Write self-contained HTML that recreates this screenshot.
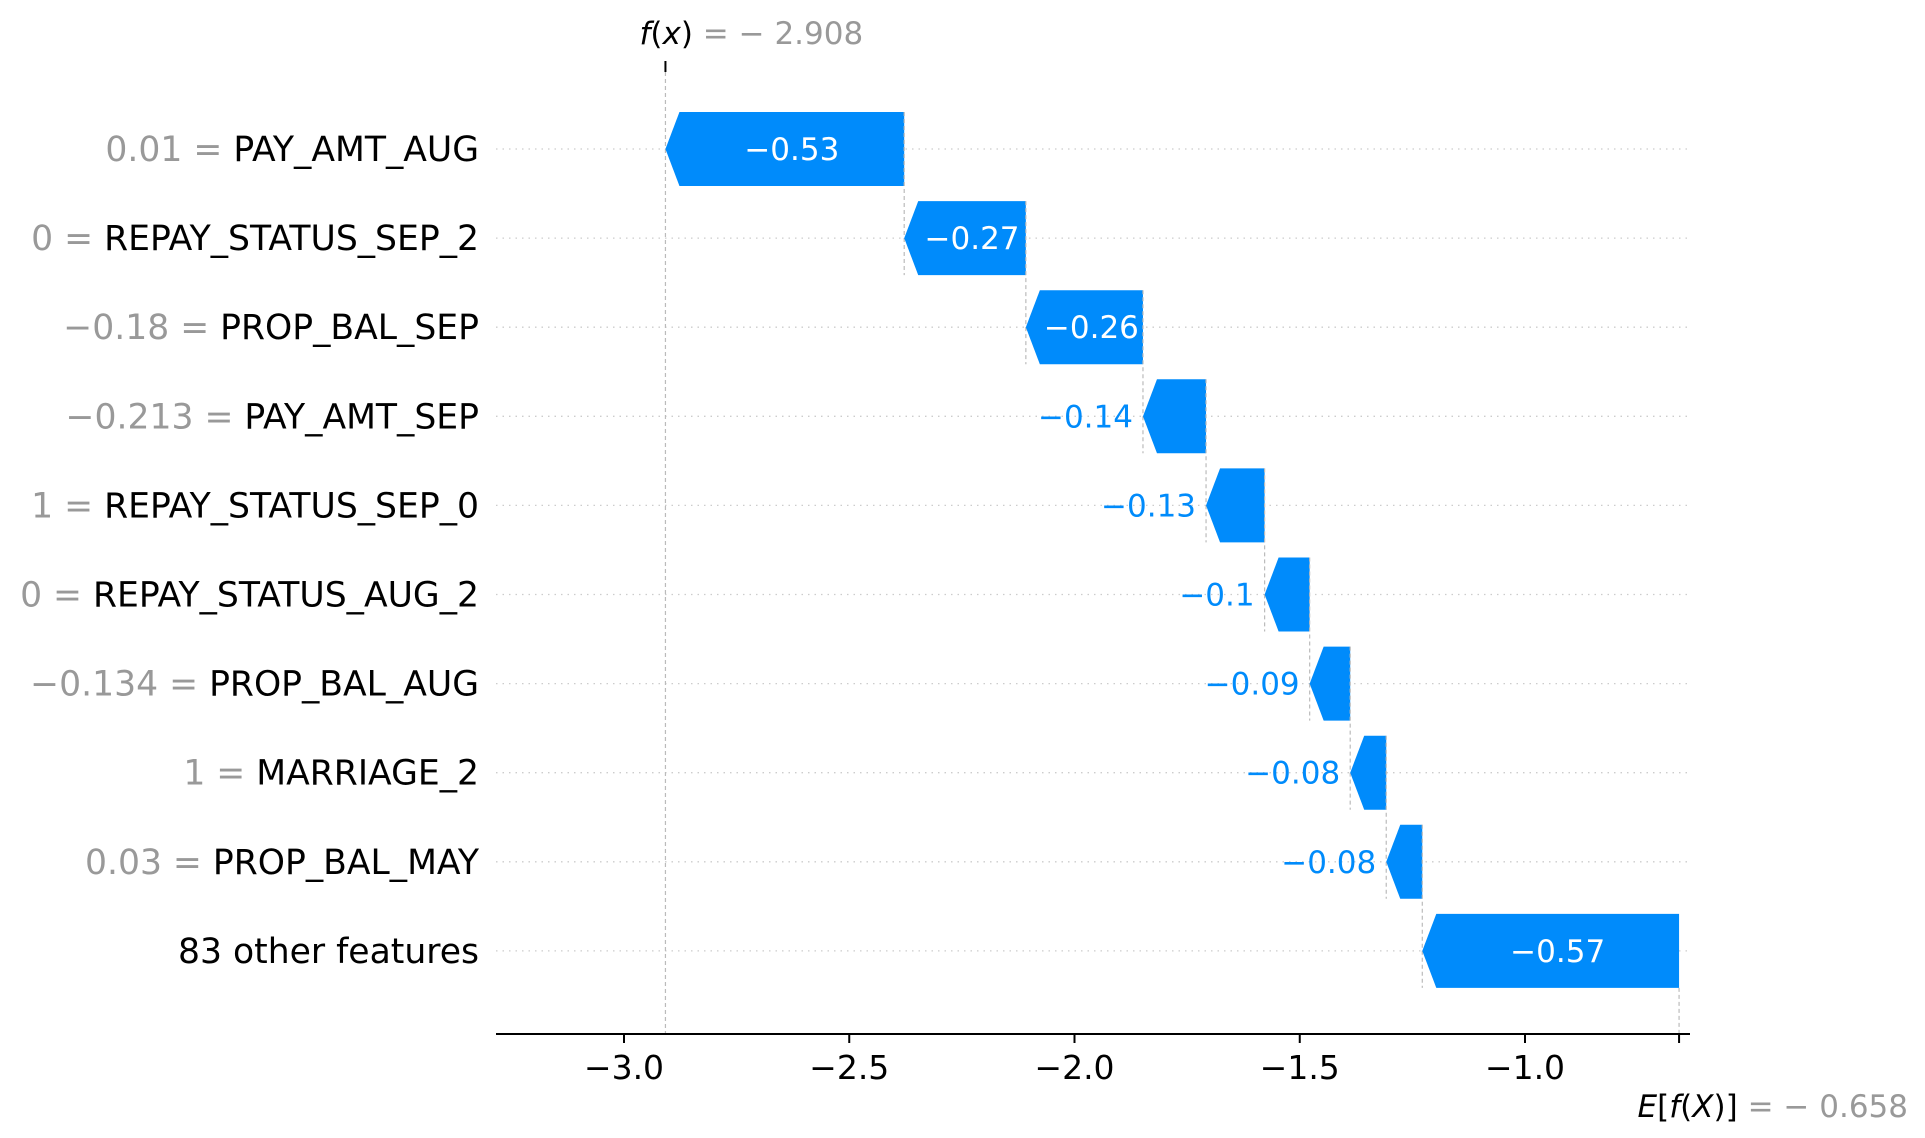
<!DOCTYPE html>
<html><head><meta charset="utf-8"><style>
html,body{margin:0;padding:0;background:#fff;}
svg{display:block;font-family:"DejaVu Sans","Liberation Sans",sans-serif;}
</style></head><body>
<svg id="chart" width="1925" height="1138" viewBox="0 0 1925 1138" xmlns="http://www.w3.org/2000/svg"></svg>
<script>
const featureValues = ["0.01","0","\u22120.18","\u22120.213","1","0","\u22120.134","1","0.03",""];
const featureNames = ["PAY_AMT_AUG","REPAY_STATUS_SEP_2","PROP_BAL_SEP","PAY_AMT_SEP","REPAY_STATUS_SEP_0","REPAY_STATUS_AUG_2","PROP_BAL_AUG","MARRIAGE_2","PROP_BAL_MAY","83 other features"];
const shapValues = [-0.53,-0.27,-0.26,-0.14,-0.13,-0.10,-0.09,-0.08,-0.08,-0.57];
const baseValue = -0.658;
const tickValues = [-3.0,-2.5,-2.0,-1.5,-1.0];
const tickLabels = ["\u22123.0","\u22122.5","\u22122.0","\u22121.5","\u22121.0"];

const NS="http://www.w3.org/2000/svg";
const svg=document.getElementById('chart');
const X0=624, PPU=450.5, AX=-3.0;
const xs=v=>X0+(v-AX)*PPU;
const ys=i=>149+i*89.1;
const barH=74, head=14, axisY=1034, plotL=496, plotR=1690;
function mk(tag,attrs,parent){const e=document.createElementNS(NS,tag);for(const k in attrs)e.setAttribute(k,attrs[k]);(parent||svg).appendChild(e);return e;}

const fx = baseValue + shapValues.reduce((a,b)=>a+b,0);

for(let i=0;i<featureNames.length;i++){
  const g=mk('line',{x1:plotL,x2:plotR,y1:ys(i),y2:ys(i),stroke:'#ccc','stroke-width':1.3,'stroke-dasharray':'1.5 5'});
  
  
}
const fl=mk('line',{x1:xs(fx),x2:xs(fx),y1:72,y2:axisY,stroke:'#bbb','stroke-width':1.2,'stroke-dasharray':'4 3'});


const ft=mk('line',{x1:xs(fx),x2:xs(fx),y1:61,y2:72,stroke:'#000','stroke-width':2});


const el=mk('line',{x1:xs(baseValue),x2:xs(baseValue),y1:ys(9)+barH/2,y2:axisY,stroke:'#bbb','stroke-width':1.2,'stroke-dasharray':'4 3'});



let cum=fx;
for(let i=0;i<shapValues.length;i++){
  const v=shapValues[i];
  const left=cum, right=cum-v;
  const xl=xs(left), xr=xs(right), yc=ys(i), yt=yc-barH/2, yb=yc+barH/2;
  const h=Math.min(head, xr-xl);
  const p=mk('polygon',{points:`${xl},${yc} ${xl+h},${yt} ${xr},${yt} ${xr},${yb} ${xl+h},${yb}`,fill:'#008bfb'});
  
  
  if(i<shapValues.length-1){
    const c=mk('line',{x1:xr,x2:xr,y1:yt,y2:ys(i+1)+barH/2,stroke:'#bbb','stroke-width':1.2,'stroke-dasharray':'4 3'});
    
    
  }
  const txt=(v<0?'\u2212':'+')+String(Math.abs(v));
  const inside=(xr-xl)>100;
  const t=mk('text',{x:inside?(xl+h+xr)/2:xl-10,y:yc+11,'font-size':31,fill:inside?'#fff':'#008bfb','text-anchor':inside?'middle':'end'});
  t.textContent=txt;
  
  
  const yl=mk('text',{x:479,y:yc+12,'font-size':34.6,'text-anchor':'end'});
  
  
  if(featureValues[i]!==''){
    const s1=mk('tspan',{fill:'#999'},yl); s1.textContent=featureValues[i]+' = ';
  }
  const s2=mk('tspan',{fill:'#000'},yl); s2.textContent=featureNames[i];
  cum=right;
}

const ax=mk('line',{x1:plotL,x2:plotR,y1:axisY,y2:axisY,stroke:'#000','stroke-width':2});


for(let i=0;i<tickValues.length;i++){
  const x=xs(tickValues[i]);
  const tk=mk('line',{x1:x,x2:x,y1:axisY,y2:axisY+9,stroke:'#000','stroke-width':2});
  
  
  const tl=mk('text',{x:x,y:axisY+45,'font-size':33,'text-anchor':'middle',fill:'#000'});
  tl.textContent=tickLabels[i];
  
  
}
const et=mk('line',{x1:xs(baseValue),x2:xs(baseValue),y1:axisY,y2:axisY+9,stroke:'#000','stroke-width':2});



const fa=mk('text',{x:xs(fx)-26,y:44,'font-size':31});


const a1=mk('tspan',{fill:'#000','font-style':'italic'},fa); a1.textContent='f';
const a2=mk('tspan',{fill:'#000'},fa); a2.textContent='(';
const a3=mk('tspan',{fill:'#000','font-style':'italic'},fa); a3.textContent='x';
const a4=mk('tspan',{fill:'#000'},fa); a4.textContent=')';
const a5=mk('tspan',{fill:'#999'},fa); a5.textContent=' = \u2212 '+Math.abs(fx).toFixed(3);

const ea=mk('text',{x:1908,y:1117,'font-size':31,'text-anchor':'end'});


const b1=mk('tspan',{fill:'#000','font-style':'italic'},ea); b1.textContent='E';
const b2=mk('tspan',{fill:'#000'},ea); b2.textContent='[';
const b3=mk('tspan',{fill:'#000','font-style':'italic'},ea); b3.textContent='f';
const b4=mk('tspan',{fill:'#000'},ea); b4.textContent='(';
const b5=mk('tspan',{fill:'#000','font-style':'italic'},ea); b5.textContent='X';
const b6=mk('tspan',{fill:'#000'},ea); b6.textContent=')]';
const b7=mk('tspan',{fill:'#999'},ea); b7.textContent=' = \u2212 '+Math.abs(baseValue).toFixed(3);
</script>
</body></html>
